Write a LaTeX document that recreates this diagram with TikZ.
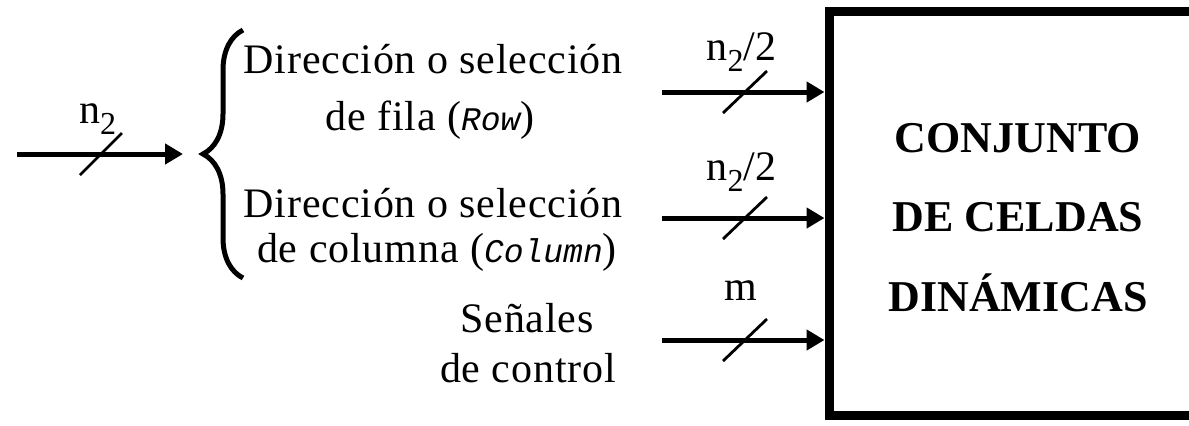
\documentclass[tikz,border=0pt]{standalone}
\usepackage{fontspec}
\setmainfont{Liberation Serif}
\setmonofont{Liberation Mono}
\newfontfamily\rotulo{Liberation Serif}[LetterSpace=2]
\usetikzlibrary{arrows.meta,decorations.pathreplacing}
\newcommand{\nsub}{n\raisebox{-5.5pt}{\fontsize{16}{16}\selectfont 2}}
\newcommand{\codigo}[1]{{\fontsize{16.5}{20}\selectfont\ttfamily\itshape #1}}

\begin{document}
\begin{tikzpicture}[x=0.5pt, y=-0.5pt,
  bus/.style={line width=2.5pt, -{Triangle[length=9pt,width=10pt]}},
  raya/.style={line width=1.4pt},
  texto/.style={font=\rotulo\fontsize{21}{25}\selectfont, anchor=base, inner sep=0pt},
  ancho/.style={font=\fontsize{21}{25}\selectfont, anchor=base, inner sep=0pt},
  caja/.style={draw, line width=4.5pt, minimum width=189pt, minimum height=202.25pt, inner sep=0pt},
  titulo/.style={font=\bfseries\fontsize{22}{39.75}\selectfont, align=center, inner sep=0pt},
]
  \useasboundingbox (0,0) rectangle (1189,425);
  \clip (0,0) rectangle (1189,425);

  % Bloque de celdas
  \node[caja] (celdas) at (1018,213.25) {};
  \node[titulo] (celdastxt) at (1018,217.5) {CONJUNTO\\DE CELDAS\\DINÁMICAS};

  % Entrada de direcciones
  \coordinate (dir) at (17,154);
  \coordinate (llave) at (183,154);
  \draw[bus] (dir) -- (llave);
  \draw[raya] (101,154) ++(-21,21) -- ++(42,-42);
  \node[ancho] (ndir) at (97.5,123) {\nsub};

  % Llave
  \draw[line width=2.5pt, decorate, decoration={brace, amplitude=20pt}] (243,278) -- (243,30);

  % Textos
  \node[texto] (fila1) at (433,73) {Dirección o selección};
  \node[texto] (fila2) at (430,130) {de fila (\codigo{Row})};
  \node[texto] (col1) at (433,217) {Dirección o selección};
  \node[texto] (col2) at (437,262) {de columna (\codigo{Column})};
  \node[texto] (senal1) at (527,332) {Señales};
  \node[texto] (senal2) at (528,382) {de control};

  % Buses hacia el bloque
  \foreach \nombre/\y in {bfila/92, bcol/218, bctl/340} {
    \coordinate (\nombre) at (662,\y);
    \draw[bus] (\nombre) -- (\nombre -| celdas.west);
    \draw[raya] (745,\y) ++(-22,21) -- ++(44,-42);
  }
  \node[ancho] (nfila) at (741.5,60) {\nsub/2};
  \node[ancho] (ncol) at (741.5,180) {\nsub/2};
  \node[ancho] (nctl) at (740.5,300) {m};
\end{tikzpicture}
\end{document}
